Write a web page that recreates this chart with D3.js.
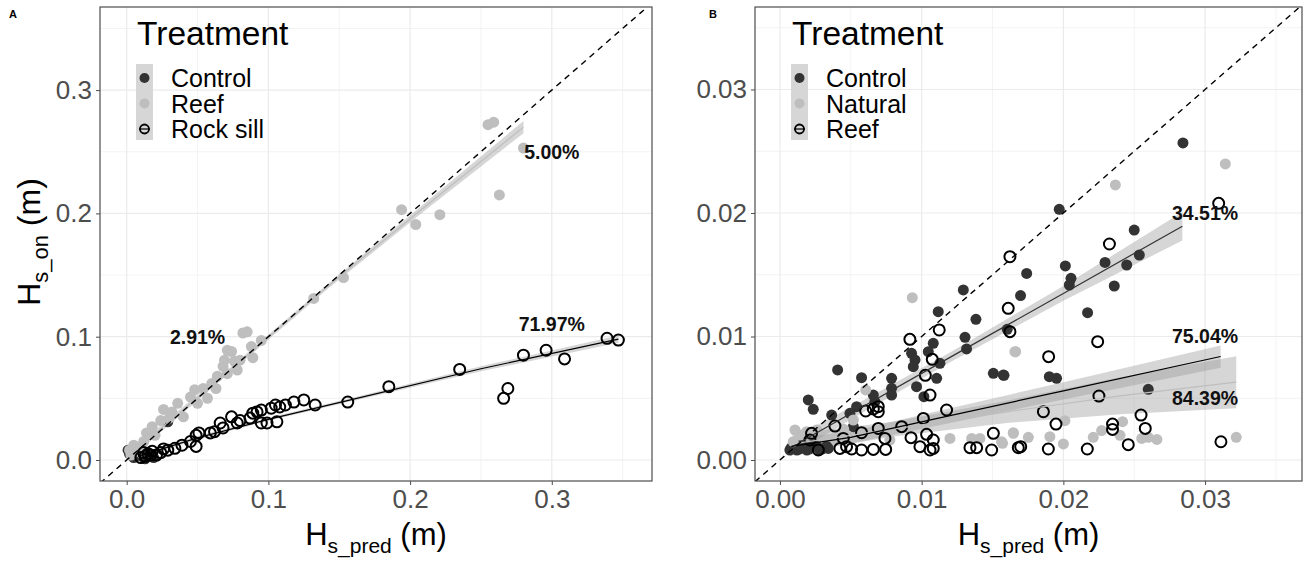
<!DOCTYPE html>
<html>
<head>
<meta charset="utf-8">
<script src="https://cdn.jsdelivr.net/npm/d3@7"></script>
<style>
  body { margin: 0; background: #fff; }
  svg { display: block; font-family: "Liberation Sans", Arial, sans-serif; }
</style>
</head>
<body>
<script>
// ---- panel A data (Hs_pred, Hs_on) ----
const aControl = [[0.002,0.005],[0.005,0.002],[0.008,0.004],[0.011,0.003],[0.013,0.001],
  [0.015,0.006],[0.017,0.003],[0.019,0.002],[0.029,0.031],[0.001,0.008]];
const aReef = [[0.002,0.008],[0.005,0.012],[0.003,0.004],[0.008,0.010],[0.010,0.006],[0.012,0.015],
  [0.014,0.022],[0.018,0.027],[0.024,0.032],[0.026,0.041],[0.032,0.039],[0.036,0.046],[0.040,0.035],
  [0.045,0.051],[0.048,0.057],[0.054,0.058],[0.057,0.050],[0.060,0.062],[0.064,0.068],[0.068,0.076],
  [0.071,0.070],[0.069,0.081],[0.071,0.089],[0.074,0.088],[0.078,0.073],[0.080,0.081],[0.082,0.103],
  [0.085,0.104],[0.088,0.092],[0.089,0.083],[0.095,0.097],[0.132,0.131],[0.153,0.148],[0.194,0.203],
  [0.204,0.191],[0.221,0.199],[0.255,0.272],[0.259,0.274],[0.263,0.215],[0.280,0.253],
  [0.020,0.020],[0.030,0.034],[0.050,0.046],[0.063,0.058],[0.076,0.080]];
const aRockSill = [[0.010,0.002],[0.012,0.006],[0.013,0.003],[0.015,0.005],[0.017,0.004],[0.018,0.007],
  [0.021,0.004],[0.024,0.006],[0.026,0.009],[0.029,0.008],[0.034,0.0095],[0.039,0.012],[0.045,0.015],
  [0.049,0.020],[0.049,0.011],[0.051,0.022],[0.059,0.022],[0.062,0.023],[0.066,0.030],[0.068,0.026],
  [0.074,0.035],[0.078,0.030],[0.080,0.032],[0.087,0.034],[0.089,0.038],[0.092,0.039],[0.095,0.0405],
  [0.095,0.030],[0.099,0.030],[0.102,0.042],[0.105,0.0446],[0.106,0.031],[0.108,0.043],[0.112,0.0446],
  [0.118,0.047],[0.125,0.0487],[0.133,0.0446],[0.156,0.047],[0.185,0.0595],[0.235,0.0735],
  [0.266,0.050],[0.269,0.058],[0.280,0.085],[0.296,0.089],[0.309,0.082],[0.339,0.0987],[0.347,0.0973]];
// fitted lines: [x, fit, half width of band]
const aFitReef = [[0.002,0.004,0.003],[0.07,0.070,0.002],[0.14,0.139,0.002],[0.21,0.205,0.003],[0.280,0.270,0.005]];
const aFitRock = [[0.008,0.003,0.0015],[0.05,0.018,0.0015],[0.10,0.033,0.0012],[0.155,0.048,0.0013],
  [0.25,0.074,0.002],[0.347,0.098,0.003]];

// ---- panel B data ----
const bControl = [[0.01294,0.01377],[0.01117,0.01201],[0.01383,0.01139],[0.01306,0.00993],[0.01317,0.00899],
  [0.01082,0.00945],[0.01047,0.00877],[0.01129,0.00783],[0.01106,0.00661],[0.00929,0.00864],[0.00953,0.0081],
  [0.00941,0.00756],[0.00964,0.00594],[0.01016,0.00513],[0.00407,0.00729],[0.00576,0.00667],[0.00788,0.00661],
  [0.00788,0.0058],[0.00788,0.00526],[0.00659,0.00526],[0.0067,0.00472],[0.00541,0.00432],[0.00494,0.00378],
  [0.00365,0.00364],[0.002,0.00486],[0.00235,0.0041],[0.01506,0.00702],[0.01576,0.00688],[0.00518,0.0027],
  [0.00341,0.00094],[0.0007,0.0008],[0.0009,0.0011],[0.0012,0.0008],[0.0014,0.0009],[0.0017,0.0011],
  [0.0019,0.0008],[0.0021,0.0009],[0.0026,0.0011],[0.0028,0.0008],[0.0033,0.0011],[0.0011,0.0013],
  [0.0015,0.0012],[0.0023,0.0012],[0.0030,0.0009],[0.0008,0.0010],
  [0.01971,0.0203],[0.01741,0.01511],[0.01698,0.01331],[0.02014,0.01571],[0.02054,0.01471],[0.02042,0.01417],
  [0.02294,0.016],[0.02447,0.01579],[0.025,0.01862],[0.02536,0.0166],[0.02359,0.01409],[0.02171,0.01193],
  [0.01581,0.00686],[0.01901,0.00675],[0.01952,0.00661],[0.02599,0.00572],[0.01604,0.01058],[0.02844,0.02567]];
const bNatural = [[0.03143,0.02397],[0.02367,0.02227],[0.01663,0.00877],[0.0322,0.00184],[0.02,0.0013],
  [0.01647,0.00216],[0.01753,0.00184],[0.01905,0.00189],[0.02011,0.00318],[0.02211,0.00184],[0.0227,0.00238],
  [0.02418,0.0031],[0.024,0.002],[0.02553,0.00175],[0.0266,0.00167],[0.02599,0.00184],[0.01571,0.00135],
  [0.00934,0.01314],[0.01658,0.00877],[0.012,0.00175],[0.01353,0.00175],[0.01411,0.00175],[0.01564,0.00148],
  [0.01647,0.00221],[0.00605,0.00567],[0.00106,0.00243],[0.00141,0.00202],[0.00188,0.00229],[0.00259,0.00243],
  [0.00094,0.00148],[0.00776,0.00162],[0.00518,0.00324],[0.0045,0.0025],[0.0065,0.0022]];
const bReef = [[0.01623,0.01646],[0.01611,0.01228],[0.01623,0.01039],[0.00917,0.00977],[0.01124,0.01053],
  [0.01075,0.00815],[0.01026,0.00686],[0.01059,0.00526],[0.01176,0.00405],[0.01012,0.00337],[0.00605,0.00397],
  [0.00694,0.00432],[0.00659,0.00413],[0.00694,0.00391],[0.00388,0.00275],[0.00576,0.00221],[0.00694,0.00256],
  [0.00859,0.0027],[0.00741,0.00175],[0.00925,0.00181],[0.01035,0.00208],[0.01082,0.00162],[0.00988,0.00108],
  [0.01059,0.00081],[0.01082,0.00094],[0.01506,0.00216],[0.01341,0.001],[0.01388,0.001],[0.01494,0.00081],
  [0.01682,0.001],[0.00659,0.00086],[0.00746,0.00086],[0.00576,0.00081],[0.0047,0.00108],[0.00423,0.00094],
  [0.00506,0.00089],[0.00447,0.00175],[0.00223,0.00216],[0.00212,0.00162],[0.00271,0.00081],
  [0.03096,0.02078],[0.02325,0.01749],[0.02242,0.00958],[0.01896,0.00837],[0.02251,0.00518],[0.01859,0.00391],
  [0.01948,0.00291],[0.02347,0.00291],[0.02347,0.00248],[0.02548,0.00364],[0.02578,0.00256],[0.01699,0.00108],
  [0.01894,0.00089],[0.02169,0.00089],[0.02458,0.00124],[0.03112,0.00148]];
const bFitControl = [[0.0007,0.00098,0.0007],[0.005,0.00377,0.0005],[0.012,0.00831,0.0004],[0.02,0.01349,0.0006],[0.0284,0.01893,0.00115]];
const bFitReef = [[0.0008,0.0011,0.0006],[0.005,0.00183,0.0005],[0.012,0.00359,0.0006],[0.02,0.0056,0.0007],[0.0311,0.00838,0.0009]];
const bFitNatural = [[0.0009,0.0013,0.0008],[0.008,0.0025,0.0006],[0.016,0.0039,0.0009],[0.024,0.0052,0.0015],[0.0322,0.0063,0.0021]];

const xTicksA = [0, 0.1, 0.2, 0.3], yTicksA = [0, 0.1, 0.2, 0.3];
const xTicksB = [0, 0.01, 0.02, 0.03], yTicksB = [0, 0.01, 0.02, 0.03];
const labelsA = [["2.91%", 0.05, 0.1], ["5.00%", 0.3, 0.25], ["71.97%", 0.3, 0.11]];
const labelsB = [["34.51%", 0.03, 0.02], ["75.04%", 0.03, 0.01], ["84.39%", 0.03, 0.005]];

const dark = "#333333", light = "#bebebe";

const svg = d3.select("body").append("svg").attr("width", 1307).attr("height", 561);

function panel(cfg) {
  const x = d3.scaleLinear().domain(cfg.xd).range([cfg.left, cfg.right]);
  const y = d3.scaleLinear().domain(cfg.yd).range([cfg.bottom, cfg.top]);
  const g = svg.append("g");

  // grid
  const minorX = d3.range(cfg.step / 2, cfg.xd[1], cfg.step);
  const minorY = d3.range(cfg.step / 2, cfg.yd[1], cfg.step);
  g.selectAll(".mx").data(minorX).enter().append("line")
    .attr("x1", x).attr("x2", x).attr("y1", cfg.top).attr("y2", cfg.bottom)
    .attr("stroke", "#f0f0f0").attr("stroke-width", 0.8);
  g.selectAll(".my").data(minorY).enter().append("line")
    .attr("y1", y).attr("y2", y).attr("x1", cfg.left).attr("x2", cfg.right)
    .attr("stroke", "#f0f0f0").attr("stroke-width", 0.8);
  g.selectAll(".gx").data(cfg.xt).enter().append("line")
    .attr("x1", x).attr("x2", x).attr("y1", cfg.top).attr("y2", cfg.bottom)
    .attr("stroke", "#ebebeb").attr("stroke-width", 1.2);
  g.selectAll(".gy").data(cfg.yt).enter().append("line")
    .attr("y1", y).attr("y2", y).attr("x1", cfg.left).attr("x2", cfg.right)
    .attr("stroke", "#ebebeb").attr("stroke-width", 1.2);

  const clipId = "clip" + cfg.name;
  svg.append("clipPath").attr("id", clipId).append("rect")
    .attr("x", cfg.left).attr("y", cfg.top)
    .attr("width", cfg.right - cfg.left).attr("height", cfg.bottom - cfg.top);
  const p = g.append("g").attr("clip-path", `url(#${clipId})`);

  // confidence bands
  const area = d3.area().x(d => x(d[0])).y0(d => y(d[1] - d[2])).y1(d => y(d[1] + d[2]));
  cfg.fits.forEach(f => {
    p.append("path").attr("d", area(f.data)).attr("fill", "#999999").attr("fill-opacity", 0.4);
  });

  // points
  cfg.series.forEach(s => {
    const sel = p.selectAll(null).data(s.data).enter().append("circle")
      .attr("cx", d => x(d[0])).attr("cy", d => y(d[1])).attr("r", 5.5);
    if (s.open) sel.attr("fill", "none").attr("stroke", "#000").attr("stroke-width", 2);
    else sel.attr("fill", s.color);
  });

  // fitted lines
  const line = d3.line().x(d => x(d[0])).y(d => y(d[1]));
  cfg.fits.forEach(f => {
    p.append("path").attr("d", line(f.data)).attr("fill", "none")
      .attr("stroke", f.color).attr("stroke-width", 1.2);
  });

  // 1:1 line
  const hi = Math.min(cfg.xd[1], cfg.yd[1]);
  p.append("line").attr("x1", x(cfg.xd[0])).attr("y1", y(cfg.xd[0]))
    .attr("x2", x(hi)).attr("y2", y(hi))
    .attr("stroke", "#000").attr("stroke-width", 1.4).attr("stroke-dasharray", "6,5");

  // percent labels
  g.selectAll(".pct").data(cfg.labels).enter().append("text")
    .attr("x", d => x(d[1])).attr("y", d => y(d[2])).attr("dy", "0.35em")
    .attr("text-anchor", "middle").attr("font-size", 19.5).attr("font-weight", "bold")
    .attr("fill", "#111").text(d => d[0]);

  // border
  g.append("rect").attr("x", cfg.left).attr("y", cfg.top)
    .attr("width", cfg.right - cfg.left).attr("height", cfg.bottom - cfg.top)
    .attr("fill", "none").attr("stroke", "#4d4d4d").attr("stroke-width", 1.2);

  // axes
  const xa = g.append("g").attr("transform", `translate(0,${cfg.bottom})`)
    .call(d3.axisBottom(x).tickValues(cfg.xt).tickFormat(cfg.fmt).tickSize(4).tickPadding(5));
  const ya = g.append("g").attr("transform", `translate(${cfg.left},0)`)
    .call(d3.axisLeft(y).tickValues(cfg.yt).tickFormat(cfg.fmt).tickSize(4).tickPadding(4));
  [xa, ya].forEach(a => {
    a.select(".domain").remove();
    a.selectAll(".tick line").attr("stroke", "#4d4d4d");
    a.selectAll(".tick text").attr("fill", "#4d4d4d").attr("font-size", 26)
      .attr("font-family", "Liberation Sans, Arial, sans-serif");
  });

  // x title
  const xt = g.append("text").attr("x", (cfg.left + cfg.right) / 2).attr("y", 545)
    .attr("text-anchor", "middle").attr("font-size", 31).attr("fill", "#000");
  xt.append("tspan").text("H");
  xt.append("tspan").attr("font-size", 21).attr("dy", 8).text("s_pred");
  xt.append("tspan").attr("dy", -8).text(" (m)");

  // panel tag
  svg.append("text").attr("x", cfg.tagX).attr("y", 18).attr("font-size", 11)
    .attr("font-weight", "bold").text(cfg.name);

  // legend
  const lx = cfg.left + 36;
  const lg = g.append("g");
  lg.append("text").attr("x", lx + 1).attr("y", 45).attr("font-size", 33.5).text("Treatment");
  lg.append("rect").attr("x", lx).attr("y", 64).attr("width", 17).attr("height", 76)
    .attr("fill", "#d6d6d6");
  cfg.series.forEach((s, i) => {
    const cy = 78 + i * 25.5;
    if (s.open) {
      lg.append("line").attr("x1", lx + 3).attr("x2", lx + 14).attr("y1", cy).attr("y2", cy)
        .attr("stroke", "#000").attr("stroke-width", 1.2);
      lg.append("circle").attr("cx", lx + 8.5).attr("cy", cy).attr("r", 4.5)
        .attr("fill", "none").attr("stroke", "#000").attr("stroke-width", 1.8);
    } else {
      lg.append("circle").attr("cx", lx + 8.5).attr("cy", cy).attr("r", 5).attr("fill", s.color);
    }
    lg.append("text").attr("x", lx + 35).attr("y", cy).attr("dy", "0.36em")
      .attr("font-size", 25).text(s.name);
  });
  return { x, y };
}

panel({
  name: "A", tagX: 9, left: 100, right: 652, top: 7, bottom: 481,
  xd: [-0.01884, 0.37072], yd: [-0.01703, 0.3674], step: 0.1,
  xt: xTicksA, yt: yTicksA, fmt: d3.format(".1f"), labels: labelsA,
  series: [
    { name: "Control", color: dark, data: aControl },
    { name: "Reef", color: light, data: aReef },
    { name: "Rock sill", open: true, data: aRockSill }
  ],
  fits: [
    { color: light, data: aFitReef },
    { color: "#000", data: aFitRock }
  ]
});

panel({
  name: "B", tagX: 709, left: 755, right: 1302, top: 7, bottom: 481,
  xd: [-0.00176, 0.03684], yd: [-0.0017, 0.03668], step: 0.01,
  xt: xTicksB, yt: yTicksB, fmt: d3.format(".2f"), labels: labelsB,
  series: [
    { name: "Control", color: dark, data: bControl },
    { name: "Natural", color: light, data: bNatural },
    { name: "Reef", open: true, data: bReef }
  ],
  fits: [
    { color: dark, data: bFitControl },
    { color: light, data: bFitNatural },
    { color: "#000", data: bFitReef }
  ]
});

// y title (panel A only)
const yt = svg.append("text").attr("transform", "translate(40,242) rotate(-90)")
  .attr("text-anchor", "middle").attr("font-size", 32).attr("fill", "#000");
yt.append("tspan").text("H");
yt.append("tspan").attr("font-size", 22).attr("dy", 8).text("s_on");
yt.append("tspan").attr("dy", -8).text(" (m)");
</script>
</body>
</html>
